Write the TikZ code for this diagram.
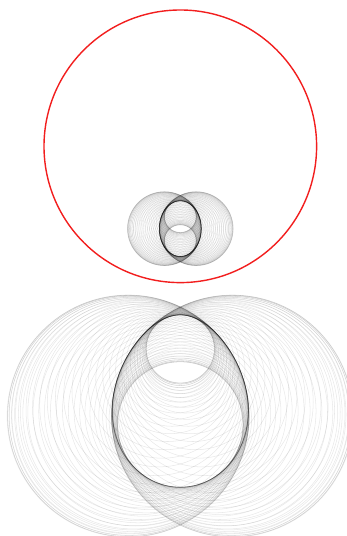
\documentclass[tikz,border=0pt]{standalone}
\usepackage{xcolor}
\usepackage{tikz}
\definecolor{mirrorred}{HTML}{F21E1E}
\tikzset{
  ring/.style={draw=black, draw opacity=0.09, line width=0.3pt},
  mirror/.style={draw=mirrorred, line width=0.8pt}
}
\begin{document}
\begin{tikzpicture}[x=0.02cm, y=-0.02cm]
  \useasboundingbox (0,0) rectangle (347,536);
  % circle of inversion
  \coordinate (O) at (180.3,146.3);
  \draw[mirror] (O) circle[radius=136.3];
  % osculating circles of an ellipse (a=21, b=27.85), and their images below
  \foreach \t in {0,3,...,357}{
    \pgfmathsetmacro{\cx}{180.3-15.93*cos(\t)*cos(\t)*cos(\t)}
    \pgfmathsetmacro{\cy}{228.65+12.015*sin(\t)*sin(\t)*sin(\t)}
    \pgfmathsetmacro{\w}{sqrt(441*sin(\t)*sin(\t)+775.6*cos(\t)*cos(\t))}
    \pgfmathsetmacro{\rad}{\w*(\w*\w/584.85)}
    \draw[ring] (\cx,\cy) circle[radius=\rad];
    \pgfmathsetmacro{\q}{136.3/sqrt((\cx-180.3)*(\cx-180.3)+(\cy-146.3)*(\cy-146.3)-\rad*\rad)}
    \pgfmathsetmacro{\sc}{\q*\q}
    \draw[ring] ({180.3+\sc*(\cx-180.3)},{146.3+\sc*(\cy-146.3)}) circle[radius=\sc*\rad];
  }
\end{tikzpicture}
\end{document}
